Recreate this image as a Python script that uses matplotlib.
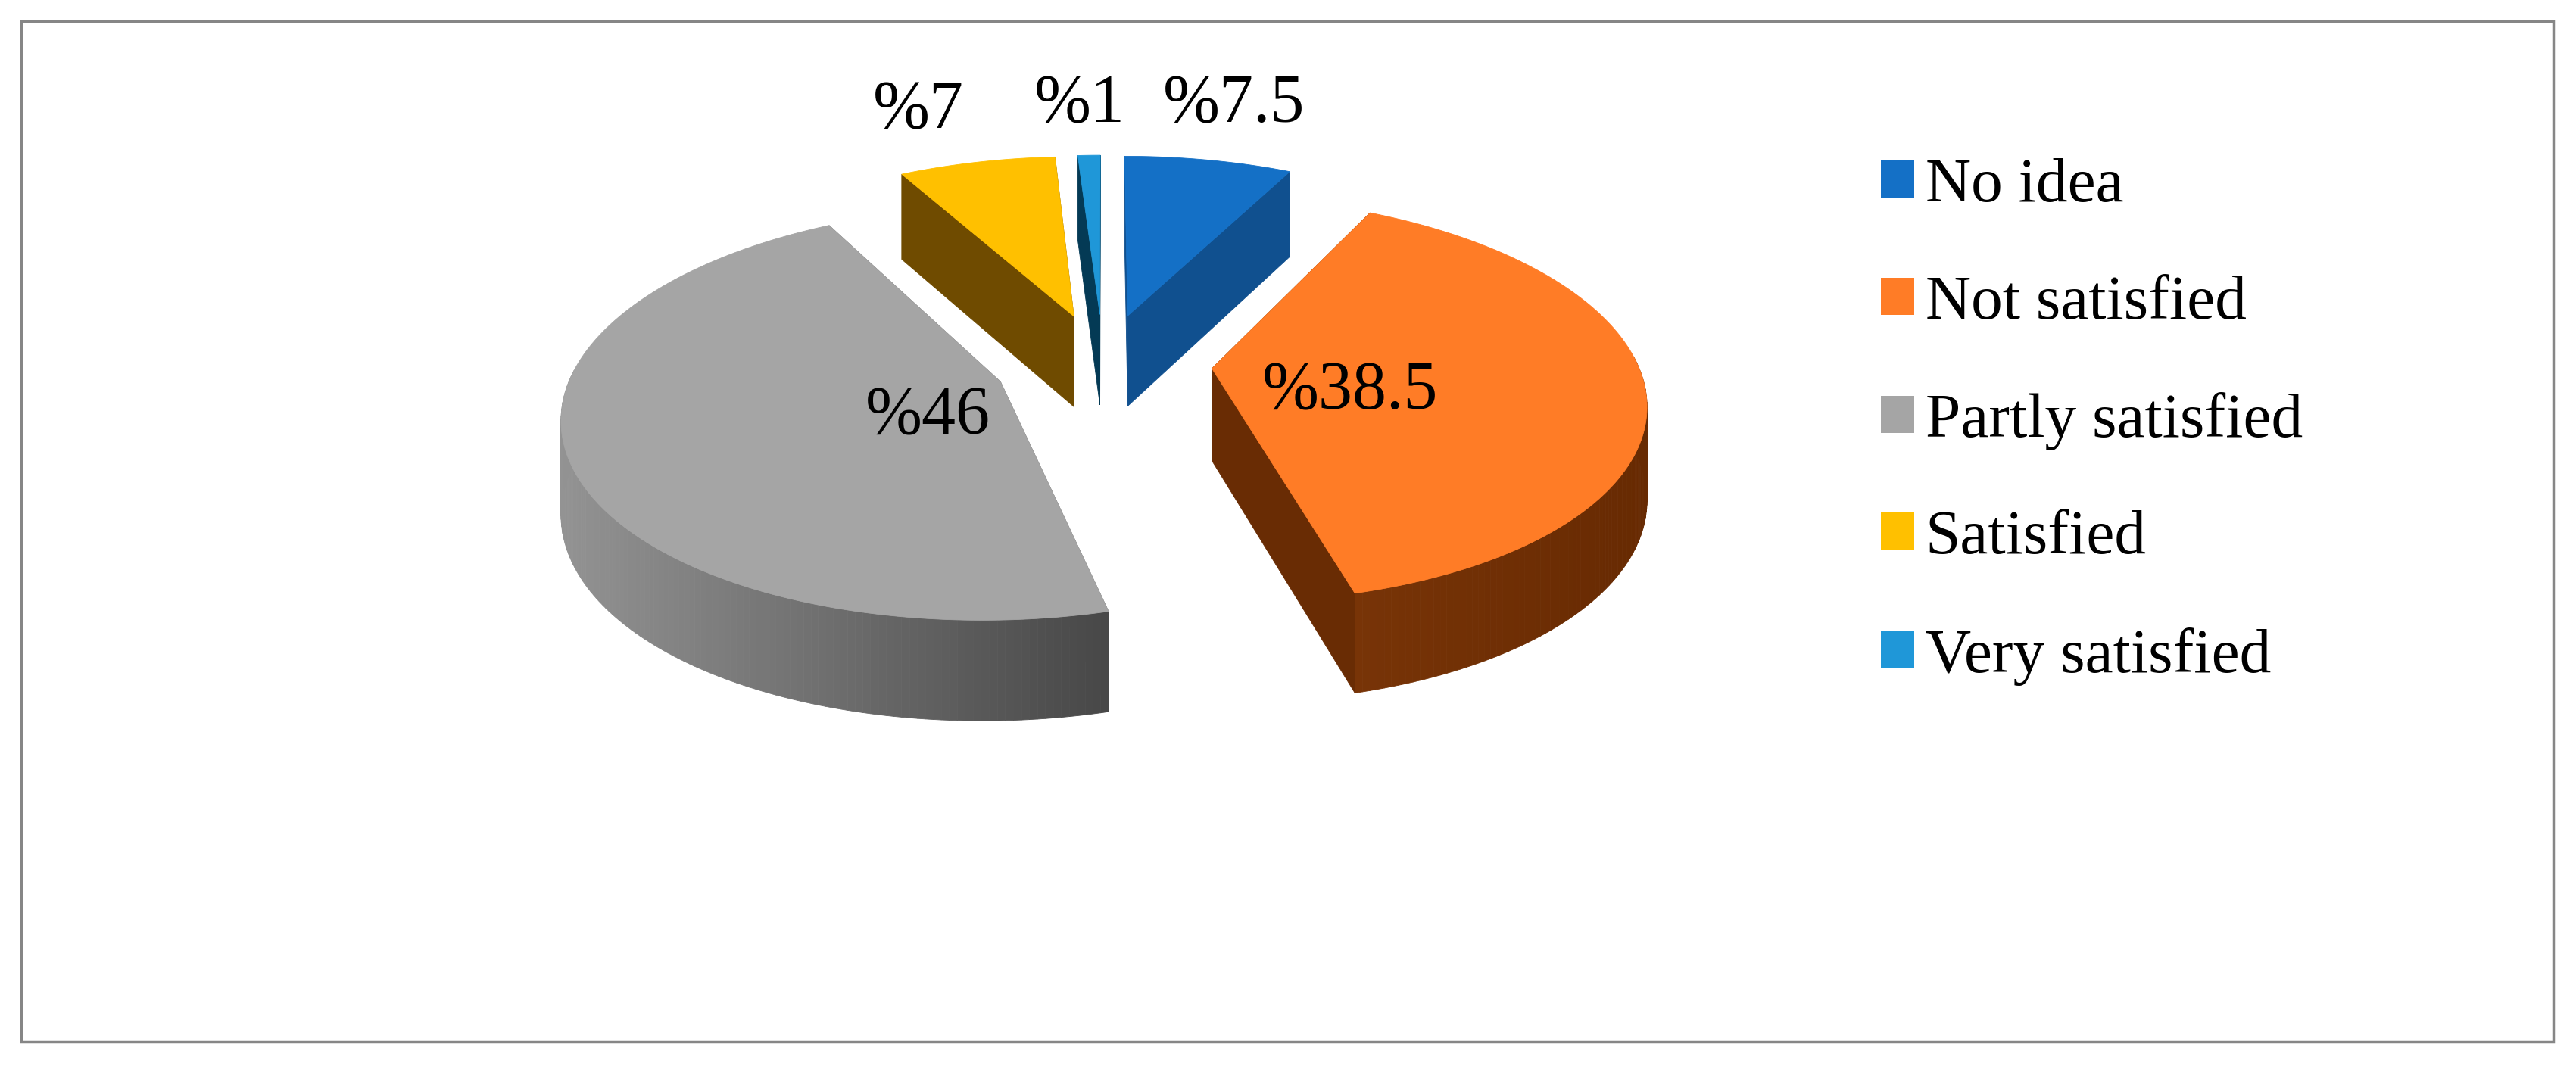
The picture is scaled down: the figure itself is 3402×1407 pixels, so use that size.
import numpy as np
import matplotlib
matplotlib.use("Agg")
import matplotlib.pyplot as plt
from matplotlib.colors import to_rgb
from matplotlib.patches import Patch, Rectangle

plt.rcParams['font.family'] = ['Liberation Serif', 'DejaVu Serif']

# Data
categories = ['No idea', 'Not satisfied', 'Partly satisfied', 'Satisfied', 'Very satisfied']
values = [7.5, 38.5, 46, 7, 1]
value_labels = ['%7.5', '%38.5', '%46', '%7', '%1']

# Colours: top face, straight wall, curved side (left end, right end)
colors = ['#1470c6', '#ff7c26', '#a5a5a5', '#ffc000', '#1f97d8']
wall_colors = ['#10508f', '#692c04', '#6a6a6a', '#6f4b00', '#043a55']
side_colors = [('#10508f', '#10508f'), ('#783407', '#672a02'), ('#939393', '#474747'),
               ('#6f4b00', '#6f4b00'), ('#043a55', '#043a55')]

# Pie projection, picture units are full size pixels
S = 3402 / 1568
cx, cy = 671.5 * S, 221 * S
R = 259 * S
k = 0.462      # squash of the disc
p = 0.15       # perspective strength
explode = 0.256
depth = 56 * S

label_pos = [(751, 64), (822, 239), (565, 254), (559, 68), (657, 64)]


def project(x, y, drop=False):
    w = 1 + p * y
    sx = cx + R * x / w
    sy = cy - R * k * y / w
    if drop:
        sy = sy + depth / w ** 0.5
    return sx, sy


fig = plt.figure(figsize=(34.02, 14.07), dpi=100)
ax = fig.add_axes([0, 0, 1, 1])
ax.set_xlim(0, 3402)
ax.set_ylim(1407, 0)
ax.axis('off')

ax.add_patch(Rectangle((13 * S, 13 * S), 1541 * S, 621 * S, fill=False,
                       edgecolor='#868686', linewidth=2.5))

# Angles run clockwise from twelve o'clock
edges = np.radians(np.cumsum([0] + values) * 3.6)

for i in [4, 3, 0, 2, 1]:
    t0, t1 = edges[i], edges[i + 1]
    mid = (t0 + t1) / 2
    ox, oy = explode * np.sin(mid), explode * np.cos(mid)
    t = np.linspace(t0, t1, max(int(values[i] * 4), 12))
    ax_x = ox + np.sin(t)
    ax_y = oy + np.cos(t)
    c_left = np.array(to_rgb(side_colors[i][0]))
    c_right = np.array(to_rgb(side_colors[i][1]))

    sx0, sy0 = project(ax_x, ax_y)
    sx1, sy1 = project(ax_x, ax_y, drop=True)

    # straight walls from the apex to both ends of the arc
    ax0, ay0 = project(ox, oy)
    ax1, ay1 = project(ox, oy, drop=True)
    for n in [0, -1]:
        ax.fill([ax0, sx0[n], sx1[n], ax1], [ay0, sy0[n], sy1[n], ay1],
                color=wall_colors[i], linewidth=0.6, zorder=2)

    # curved side, only the part that faces the front, in short strips for the shade
    left, right = sx0.min(), sx0.max()
    for j in range(len(t) - 1):
        if np.cos(t[j]) > 0.05 and np.cos(t[j + 1]) > 0.05:
            continue
        f = (0.5 * (sx0[j] + sx0[j + 1]) - left) / (right - left)
        c = tuple(c_left + f * (c_right - c_left))
        ax.fill([sx0[j], sx0[j + 1], sx1[j + 1], sx1[j]],
                [sy0[j], sy0[j + 1], sy1[j + 1], sy1[j]],
                color=c, linewidth=0.6, zorder=3)

    # top face
    ax.fill(np.r_[ax0, sx0], np.r_[ay0, sy0], color=colors[i], linewidth=0.6, zorder=4)

for txt, pos in zip(value_labels, label_pos):
    ax.text(pos[0] * S, pos[1] * S, txt, fontsize=64.8, ha='center', va='center',
            color='black', zorder=5)

handles = [Patch(facecolor=c, edgecolor='none', label=n) for c, n in zip(colors, categories)]
ax.legend(handles=handles, loc='upper left', bbox_to_anchor=(1145 / 1568, 1 - 96 / 648),
          frameon=False, fontsize=60, borderpad=0, borderaxespad=0,
          handlelength=0.53, handleheight=0.53, handletextpad=0.17, labelspacing=0.95)

fig.savefig('out.png', dpi=100)
